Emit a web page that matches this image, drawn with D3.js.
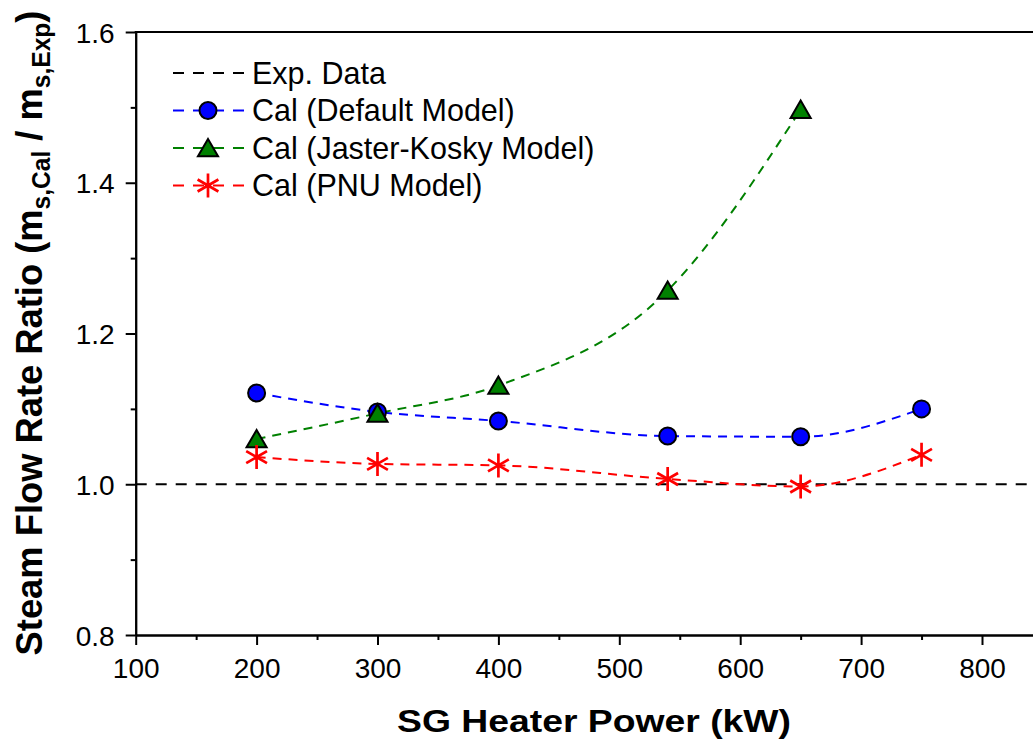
<!DOCTYPE html>
<html><head><meta charset="utf-8">
<script src="https://cdn.jsdelivr.net/npm/d3@7"></script>
<style>body{margin:0;background:#fff}svg{display:block;font-family:"Liberation Sans",Arial,sans-serif}</style>
</head><body>
<svg id="c" width="1033" height="743"></svg>
<script>
const power = [200, 300, 400, 540, 650, 750];
const defaultModel = [1.121, 1.096, 1.084, 1.064, 1.063, 1.100];
const jasterKosky = [1.060, 1.094, 1.131, 1.257, 1.497];
const pnuModel = [1.036, 1.027, 1.025, 1.007, 0.997, 1.039];
const expLevel = 1.0;
const xTicks = [100, 200, 300, 400, 500, 600, 700, 800];
const xMinorTicks = [150, 250, 350, 450, 550, 650, 750];
const yTicks = [0.8, 1.0, 1.2, 1.4, 1.6];
const yMinorTicks = [0.9, 1.1, 1.3, 1.5];
const legendLabels = ["Exp. Data", "Cal (Default Model)", "Cal (Jaster-Kosky Model)", "Cal (PNU Model)"];

const svg = d3.select("#c");
const x = d3.scaleLinear().domain([100, 900]).range([135.7, 135.7 + 8 * 120.9]);
const y = d3.scaleLinear().domain([0.8, 1.6]).range([635, 32]);

const xAxis = svg.append("g").attr("transform", `translate(0,${y(0.8)})`)
  .call(d3.axisBottom(x).tickValues(xTicks).tickSize(10).tickSizeOuter(0).tickFormat(d3.format("d")));
const xMinor = svg.append("g").attr("transform", `translate(0,${y(0.8)})`)
  .call(d3.axisBottom(x).tickValues(xMinorTicks).tickSize(5).tickSizeOuter(0).tickFormat(""));
const yAxis = svg.append("g").attr("transform", `translate(${x(100)},0)`)
  .call(d3.axisLeft(y).tickValues(yTicks).tickSize(10).tickSizeOuter(0).tickFormat(d3.format(".1f")));
const yMinor = svg.append("g").attr("transform", `translate(${x(100)},0)`)
  .call(d3.axisLeft(y).tickValues(yMinorTicks).tickSize(5).tickSizeOuter(0).tickFormat(""));
[xAxis, xMinor, yAxis, yMinor].forEach(g => {
  g.select(".domain").attr("stroke", "#000").attr("stroke-width", 2);
  g.selectAll(".tick line").attr("stroke", "#000").attr("stroke-width", 2);
  g.selectAll("text").attr("fill", "#000").style("font-size", "28px").style("font-family", "'Liberation Sans',Arial,sans-serif");
});
xAxis.selectAll("text").attr("dy", 0).attr("y", 43);
yAxis.selectAll("text").attr("x", -21).attr("dy", "0.36em");
svg.append("line").attr("x1", x(100) - 1).attr("x2", 1033).attr("y1", y(1.6)).attr("y2", y(1.6))
  .attr("stroke", "#000").attr("stroke-width", 2);

// titles
svg.append("text").attr("x", 594).attr("y", 732).attr("text-anchor", "middle")
  .style("font-size", "31px").style("font-weight", "bold")
  .attr("textLength", 394).attr("lengthAdjust", "spacingAndGlyphs").text("SG Heater Power (kW)");

const ytG = svg.append("g");
const yt = ytG.append("text").attr("text-anchor", "middle")
  .style("font-size", "37px").style("font-weight", "bold");
yt.append("tspan").text("Steam Flow Rate Ratio (m");
yt.append("tspan").attr("dy", 8).style("font-size", "25px").text("s,Cal");
yt.append("tspan").attr("dy", -8).text(" / m");
yt.append("tspan").attr("dy", 8).style("font-size", "25px").text("s,Exp");
yt.append("tspan").attr("dy", -8).text(")");
const natural = yt.node().getBBox().width;
const sx = 645 / natural;
ytG.attr("transform", `translate(42,333) rotate(-90) scale(${sx},1)`);

const plot = svg.append("g");
plot.append("line").attr("x1", x(100)).attr("x2", 1033).attr("y1", y(expLevel)).attr("y2", y(expLevel))
  .attr("stroke", "#000").attr("stroke-width", 2).attr("stroke-dasharray", "11,9");

const line = d3.line().x(d => x(d[0])).y(d => y(d[1])).curve(d3.curveMonotoneX);
const series = [
  {vals: defaultModel, color: "#0000ff", marker: "circle"},
  {vals: jasterKosky, color: "#008000", marker: "triangle"},
  {vals: pnuModel, color: "#ff0000", marker: "star"}
];
function drawMarker(g, type, cx, cy) {
  if (type === "circle") {
    g.append("circle").attr("cx", cx).attr("cy", cy).attr("r", 8.5)
      .attr("fill", "#0000ff").attr("stroke", "#000").attr("stroke-width", 2);
  } else if (type === "triangle") {
    const s = d3.symbol().type(d3.symbolTriangle).size(175)();
    g.append("path").attr("d", s).attr("transform", `translate(${cx},${cy + 2.5})`)
      .attr("fill", "#008000").attr("stroke", "#000").attr("stroke-width", 2);
  } else {
    const r = 12;
    const p = [];
    [90, 30, 150].forEach(a => {
      const rad = a * Math.PI / 180;
      p.push(`M${cx - r * Math.cos(rad)},${cy - r * Math.sin(rad)}L${cx + r * Math.cos(rad)},${cy + r * Math.sin(rad)}`);
    });
    g.append("path").attr("d", p.join("")).attr("stroke", "#ff0000").attr("stroke-width", 2.7).attr("fill", "none");
  }
}
series.forEach(s => {
  const pts = s.vals.map((v, i) => [power[i], v]);
  plot.append("path").attr("d", line(pts)).attr("fill", "none").attr("stroke", s.color)
    .attr("stroke-width", 2).attr("stroke-dasharray", "9,7");
});
series.forEach(s => {
  s.vals.forEach((v, i) => drawMarker(plot, s.marker, x(power[i]), y(v)));
});

// legend
const legY = [73, 110.5, 148, 185.5];
const legColors = ["#000", "#0000ff", "#008000", "#ff0000"];
const legMarkers = [null, "circle", "triangle", "star"];
legendLabels.forEach((t, i) => {
  svg.append("line").attr("x1", 173).attr("x2", 244).attr("y1", legY[i]).attr("y2", legY[i])
    .attr("stroke", legColors[i]).attr("stroke-width", 2).attr("stroke-dasharray", "11,9");
  if (legMarkers[i]) drawMarker(svg, legMarkers[i], 208, legY[i]);
  svg.append("text").attr("x", 252).attr("y", legY[i] + 10.5).style("font-size", "30.5px").text(t);
});
</script>
</body></html>
